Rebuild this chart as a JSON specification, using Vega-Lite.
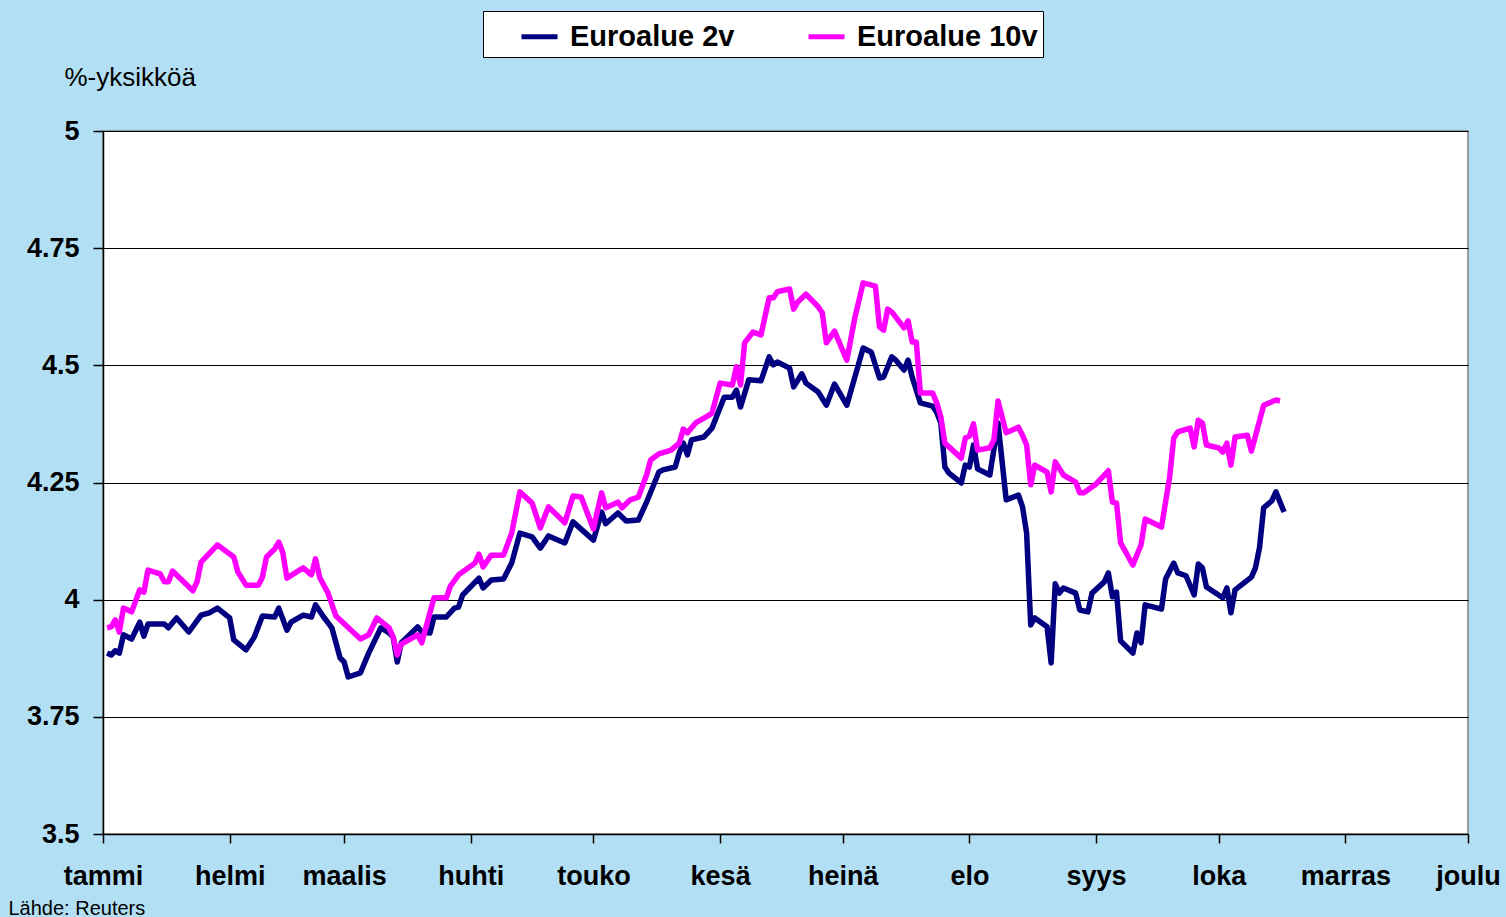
{
  "$schema": "https://vega.github.io/schema/vega-lite/v6.json",
  "width": 1365,
  "height": 703,
  "autosize": {"type": "none"},
  "padding": {"left": 103, "top": 131, "right": 38, "bottom": 83},
  "background": "#b2dff4",
  "config": {
    "font": "Liberation Sans",
    "view": {"fill": "white", "stroke": "#808080", "strokeWidth": 1.5}
  },
  "data": {"values": [
    {"date":"2007-01-02","series":"Euroalue 2v","value":3.886},{"date":"2007-01-03","series":"Euroalue 2v","value":3.882},{"date":"2007-01-04","series":"Euroalue 2v","value":3.891},{"date":"2007-01-05","series":"Euroalue 2v","value":3.886},{"date":"2007-01-06","series":"Euroalue 2v","value":3.925},{"date":"2007-01-08","series":"Euroalue 2v","value":3.916},{"date":"2007-01-10","series":"Euroalue 2v","value":3.952},{"date":"2007-01-11","series":"Euroalue 2v","value":3.922},{"date":"2007-01-12","series":"Euroalue 2v","value":3.948},{"date":"2007-01-16","series":"Euroalue 2v","value":3.948},{"date":"2007-01-17","series":"Euroalue 2v","value":3.940},{"date":"2007-01-19","series":"Euroalue 2v","value":3.961},{"date":"2007-01-22","series":"Euroalue 2v","value":3.931},{"date":"2007-01-25","series":"Euroalue 2v","value":3.967},{"date":"2007-01-27","series":"Euroalue 2v","value":3.972},{"date":"2007-01-29","series":"Euroalue 2v","value":3.982},
    {"date":"2007-02-01","series":"Euroalue 2v","value":3.961},{"date":"2007-02-02","series":"Euroalue 2v","value":3.914},{"date":"2007-02-05","series":"Euroalue 2v","value":3.893},{"date":"2007-02-07","series":"Euroalue 2v","value":3.920},{"date":"2007-02-09","series":"Euroalue 2v","value":3.965},{"date":"2007-02-12","series":"Euroalue 2v","value":3.963},{"date":"2007-02-13","series":"Euroalue 2v","value":3.982},{"date":"2007-02-15","series":"Euroalue 2v","value":3.935},{"date":"2007-02-16","series":"Euroalue 2v","value":3.952},{"date":"2007-02-19","series":"Euroalue 2v","value":3.967},{"date":"2007-02-21","series":"Euroalue 2v","value":3.963},{"date":"2007-02-22","series":"Euroalue 2v","value":3.989},{"date":"2007-02-24","series":"Euroalue 2v","value":3.963},{"date":"2007-02-26","series":"Euroalue 2v","value":3.940},{"date":"2007-02-28","series":"Euroalue 2v","value":3.876},
    {"date":"2007-03-01","series":"Euroalue 2v","value":3.867},{"date":"2007-03-02","series":"Euroalue 2v","value":3.835},{"date":"2007-03-05","series":"Euroalue 2v","value":3.844},{"date":"2007-03-07","series":"Euroalue 2v","value":3.886},{"date":"2007-03-10","series":"Euroalue 2v","value":3.940},{"date":"2007-03-12","series":"Euroalue 2v","value":3.929},{"date":"2007-03-13","series":"Euroalue 2v","value":3.920},{"date":"2007-03-14","series":"Euroalue 2v","value":3.867},{"date":"2007-03-15","series":"Euroalue 2v","value":3.908},{"date":"2007-03-19","series":"Euroalue 2v","value":3.942},{"date":"2007-03-20","series":"Euroalue 2v","value":3.931},{"date":"2007-03-22","series":"Euroalue 2v","value":3.929},{"date":"2007-03-23","series":"Euroalue 2v","value":3.963},{"date":"2007-03-26","series":"Euroalue 2v","value":3.963},{"date":"2007-03-28","series":"Euroalue 2v","value":3.982},{"date":"2007-03-29","series":"Euroalue 2v","value":3.984},{"date":"2007-03-30","series":"Euroalue 2v","value":4.010},
    {"date":"2007-04-03","series":"Euroalue 2v","value":4.046},{"date":"2007-04-04","series":"Euroalue 2v","value":4.025},{"date":"2007-04-06","series":"Euroalue 2v","value":4.042},{"date":"2007-04-09","series":"Euroalue 2v","value":4.044},{"date":"2007-04-11","series":"Euroalue 2v","value":4.078},{"date":"2007-04-13","series":"Euroalue 2v","value":4.142},{"date":"2007-04-16","series":"Euroalue 2v","value":4.134},{"date":"2007-04-18","series":"Euroalue 2v","value":4.110},{"date":"2007-04-20","series":"Euroalue 2v","value":4.136},{"date":"2007-04-24","series":"Euroalue 2v","value":4.121},{"date":"2007-04-26","series":"Euroalue 2v","value":4.166},
    {"date":"2007-05-01","series":"Euroalue 2v","value":4.127},{"date":"2007-05-03","series":"Euroalue 2v","value":4.187},{"date":"2007-05-04","series":"Euroalue 2v","value":4.162},{"date":"2007-05-07","series":"Euroalue 2v","value":4.185},{"date":"2007-05-09","series":"Euroalue 2v","value":4.168},{"date":"2007-05-12","series":"Euroalue 2v","value":4.170},{"date":"2007-05-14","series":"Euroalue 2v","value":4.208},{"date":"2007-05-17","series":"Euroalue 2v","value":4.272},{"date":"2007-05-18","series":"Euroalue 2v","value":4.277},{"date":"2007-05-21","series":"Euroalue 2v","value":4.283},{"date":"2007-05-22","series":"Euroalue 2v","value":4.313},{"date":"2007-05-23","series":"Euroalue 2v","value":4.334},{"date":"2007-05-24","series":"Euroalue 2v","value":4.309},{"date":"2007-05-25","series":"Euroalue 2v","value":4.341},{"date":"2007-05-28","series":"Euroalue 2v","value":4.347},{"date":"2007-05-30","series":"Euroalue 2v","value":4.366},
    {"date":"2007-06-02","series":"Euroalue 2v","value":4.432},{"date":"2007-06-04","series":"Euroalue 2v","value":4.432},{"date":"2007-06-05","series":"Euroalue 2v","value":4.447},{"date":"2007-06-06","series":"Euroalue 2v","value":4.411},{"date":"2007-06-08","series":"Euroalue 2v","value":4.469},{"date":"2007-06-11","series":"Euroalue 2v","value":4.467},{"date":"2007-06-13","series":"Euroalue 2v","value":4.518},{"date":"2007-06-14","series":"Euroalue 2v","value":4.501},{"date":"2007-06-15","series":"Euroalue 2v","value":4.507},{"date":"2007-06-18","series":"Euroalue 2v","value":4.494},{"date":"2007-06-19","series":"Euroalue 2v","value":4.454},{"date":"2007-06-21","series":"Euroalue 2v","value":4.482},{"date":"2007-06-22","series":"Euroalue 2v","value":4.462},{"date":"2007-06-25","series":"Euroalue 2v","value":4.443},{"date":"2007-06-27","series":"Euroalue 2v","value":4.415},{"date":"2007-06-29","series":"Euroalue 2v","value":4.460},
    {"date":"2007-07-02","series":"Euroalue 2v","value":4.415},{"date":"2007-07-06","series":"Euroalue 2v","value":4.537},{"date":"2007-07-08","series":"Euroalue 2v","value":4.528},{"date":"2007-07-10","series":"Euroalue 2v","value":4.473},{"date":"2007-07-11","series":"Euroalue 2v","value":4.475},{"date":"2007-07-13","series":"Euroalue 2v","value":4.518},{"date":"2007-07-14","series":"Euroalue 2v","value":4.511},{"date":"2007-07-16","series":"Euroalue 2v","value":4.490},{"date":"2007-07-17","series":"Euroalue 2v","value":4.511},{"date":"2007-07-18","series":"Euroalue 2v","value":4.475},{"date":"2007-07-20","series":"Euroalue 2v","value":4.420},{"date":"2007-07-23","series":"Euroalue 2v","value":4.413},{"date":"2007-07-24","series":"Euroalue 2v","value":4.400},{"date":"2007-07-25","series":"Euroalue 2v","value":4.377},{"date":"2007-07-26","series":"Euroalue 2v","value":4.283},{"date":"2007-07-27","series":"Euroalue 2v","value":4.270},{"date":"2007-07-30","series":"Euroalue 2v","value":4.249},{"date":"2007-07-31","series":"Euroalue 2v","value":4.287},
    {"date":"2007-08-01","series":"Euroalue 2v","value":4.283},{"date":"2007-08-02","series":"Euroalue 2v","value":4.330},{"date":"2007-08-03","series":"Euroalue 2v","value":4.279},{"date":"2007-08-06","series":"Euroalue 2v","value":4.266},{"date":"2007-08-08","series":"Euroalue 2v","value":4.377},{"date":"2007-08-10","series":"Euroalue 2v","value":4.213},{"date":"2007-08-13","series":"Euroalue 2v","value":4.223},{"date":"2007-08-14","series":"Euroalue 2v","value":4.198},{"date":"2007-08-15","series":"Euroalue 2v","value":4.142},{"date":"2007-08-16","series":"Euroalue 2v","value":3.946},{"date":"2007-08-17","series":"Euroalue 2v","value":3.961},{"date":"2007-08-20","series":"Euroalue 2v","value":3.942},{"date":"2007-08-21","series":"Euroalue 2v","value":3.865},{"date":"2007-08-22","series":"Euroalue 2v","value":4.034},{"date":"2007-08-23","series":"Euroalue 2v","value":4.014},{"date":"2007-08-24","series":"Euroalue 2v","value":4.025},{"date":"2007-08-27","series":"Euroalue 2v","value":4.014},{"date":"2007-08-28","series":"Euroalue 2v","value":3.978},{"date":"2007-08-30","series":"Euroalue 2v","value":3.974},{"date":"2007-08-31","series":"Euroalue 2v","value":4.014},
    {"date":"2007-09-03","series":"Euroalue 2v","value":4.038},{"date":"2007-09-04","series":"Euroalue 2v","value":4.057},{"date":"2007-09-05","series":"Euroalue 2v","value":4.006},{"date":"2007-09-06","series":"Euroalue 2v","value":4.016},{"date":"2007-09-07","series":"Euroalue 2v","value":3.912},{"date":"2007-09-10","series":"Euroalue 2v","value":3.886},{"date":"2007-09-11","series":"Euroalue 2v","value":3.929},{"date":"2007-09-12","series":"Euroalue 2v","value":3.908},{"date":"2007-09-13","series":"Euroalue 2v","value":3.989},{"date":"2007-09-17","series":"Euroalue 2v","value":3.980},{"date":"2007-09-18","series":"Euroalue 2v","value":4.044},{"date":"2007-09-20","series":"Euroalue 2v","value":4.078},{"date":"2007-09-21","series":"Euroalue 2v","value":4.057},{"date":"2007-09-23","series":"Euroalue 2v","value":4.051},{"date":"2007-09-25","series":"Euroalue 2v","value":4.010},{"date":"2007-09-26","series":"Euroalue 2v","value":4.076},{"date":"2007-09-27","series":"Euroalue 2v","value":4.068},{"date":"2007-09-28","series":"Euroalue 2v","value":4.027},
    {"date":"2007-10-02","series":"Euroalue 2v","value":4.004},{"date":"2007-10-03","series":"Euroalue 2v","value":4.025},{"date":"2007-10-04","series":"Euroalue 2v","value":3.972},{"date":"2007-10-05","series":"Euroalue 2v","value":4.021},{"date":"2007-10-09","series":"Euroalue 2v","value":4.048},{"date":"2007-10-10","series":"Euroalue 2v","value":4.068},{"date":"2007-10-11","series":"Euroalue 2v","value":4.112},{"date":"2007-10-12","series":"Euroalue 2v","value":4.196},{"date":"2007-10-14","series":"Euroalue 2v","value":4.211},{"date":"2007-10-15","series":"Euroalue 2v","value":4.230},{"date":"2007-10-17","series":"Euroalue 2v","value":4.187},
    {"date":"2007-01-02","series":"Euroalue 10v","value":3.940},{"date":"2007-01-03","series":"Euroalue 10v","value":3.942},{"date":"2007-01-04","series":"Euroalue 10v","value":3.957},{"date":"2007-01-05","series":"Euroalue 10v","value":3.931},{"date":"2007-01-06","series":"Euroalue 10v","value":3.982},{"date":"2007-01-08","series":"Euroalue 10v","value":3.974},{"date":"2007-01-10","series":"Euroalue 10v","value":4.021},{"date":"2007-01-11","series":"Euroalue 10v","value":4.016},{"date":"2007-01-12","series":"Euroalue 10v","value":4.063},{"date":"2007-01-15","series":"Euroalue 10v","value":4.055},{"date":"2007-01-16","series":"Euroalue 10v","value":4.038},{"date":"2007-01-17","series":"Euroalue 10v","value":4.038},{"date":"2007-01-18","series":"Euroalue 10v","value":4.061},{"date":"2007-01-23","series":"Euroalue 10v","value":4.019},{"date":"2007-01-24","series":"Euroalue 10v","value":4.038},{"date":"2007-01-25","series":"Euroalue 10v","value":4.080},{"date":"2007-01-29","series":"Euroalue 10v","value":4.117},
    {"date":"2007-02-02","series":"Euroalue 10v","value":4.091},{"date":"2007-02-03","series":"Euroalue 10v","value":4.059},{"date":"2007-02-05","series":"Euroalue 10v","value":4.031},{"date":"2007-02-08","series":"Euroalue 10v","value":4.031},{"date":"2007-02-09","series":"Euroalue 10v","value":4.048},{"date":"2007-02-10","series":"Euroalue 10v","value":4.091},{"date":"2007-02-12","series":"Euroalue 10v","value":4.108},{"date":"2007-02-13","series":"Euroalue 10v","value":4.123},{"date":"2007-02-14","series":"Euroalue 10v","value":4.100},{"date":"2007-02-15","series":"Euroalue 10v","value":4.046},{"date":"2007-02-19","series":"Euroalue 10v","value":4.068},{"date":"2007-02-21","series":"Euroalue 10v","value":4.053},{"date":"2007-02-22","series":"Euroalue 10v","value":4.087},{"date":"2007-02-23","series":"Euroalue 10v","value":4.048},{"date":"2007-02-25","series":"Euroalue 10v","value":4.015},{"date":"2007-02-27","series":"Euroalue 10v","value":3.965},
    {"date":"2007-03-05","series":"Euroalue 10v","value":3.916},{"date":"2007-03-07","series":"Euroalue 10v","value":3.925},{"date":"2007-03-09","series":"Euroalue 10v","value":3.961},{"date":"2007-03-12","series":"Euroalue 10v","value":3.940},{"date":"2007-03-13","series":"Euroalue 10v","value":3.920},{"date":"2007-03-14","series":"Euroalue 10v","value":3.882},{"date":"2007-03-15","series":"Euroalue 10v","value":3.905},{"date":"2007-03-19","series":"Euroalue 10v","value":3.925},{"date":"2007-03-20","series":"Euroalue 10v","value":3.908},{"date":"2007-03-21","series":"Euroalue 10v","value":3.940},{"date":"2007-03-23","series":"Euroalue 10v","value":4.004},{"date":"2007-03-26","series":"Euroalue 10v","value":4.004},{"date":"2007-03-27","series":"Euroalue 10v","value":4.029},{"date":"2007-03-29","series":"Euroalue 10v","value":4.053},
    {"date":"2007-04-02","series":"Euroalue 10v","value":4.078},{"date":"2007-04-03","series":"Euroalue 10v","value":4.097},{"date":"2007-04-04","series":"Euroalue 10v","value":4.070},{"date":"2007-04-06","series":"Euroalue 10v","value":4.095},{"date":"2007-04-09","series":"Euroalue 10v","value":4.095},{"date":"2007-04-11","series":"Euroalue 10v","value":4.142},{"date":"2007-04-13","series":"Euroalue 10v","value":4.230},{"date":"2007-04-16","series":"Euroalue 10v","value":4.206},{"date":"2007-04-18","series":"Euroalue 10v","value":4.153},{"date":"2007-04-20","series":"Euroalue 10v","value":4.198},{"date":"2007-04-24","series":"Euroalue 10v","value":4.164},{"date":"2007-04-26","series":"Euroalue 10v","value":4.221},{"date":"2007-04-28","series":"Euroalue 10v","value":4.219},
    {"date":"2007-05-01","series":"Euroalue 10v","value":4.151},{"date":"2007-05-03","series":"Euroalue 10v","value":4.228},{"date":"2007-05-04","series":"Euroalue 10v","value":4.196},{"date":"2007-05-07","series":"Euroalue 10v","value":4.208},{"date":"2007-05-08","series":"Euroalue 10v","value":4.196},{"date":"2007-05-10","series":"Euroalue 10v","value":4.213},{"date":"2007-05-12","series":"Euroalue 10v","value":4.219},{"date":"2007-05-14","series":"Euroalue 10v","value":4.266},{"date":"2007-05-15","series":"Euroalue 10v","value":4.298},{"date":"2007-05-17","series":"Euroalue 10v","value":4.311},{"date":"2007-05-20","series":"Euroalue 10v","value":4.319},{"date":"2007-05-22","series":"Euroalue 10v","value":4.334},{"date":"2007-05-23","series":"Euroalue 10v","value":4.364},{"date":"2007-05-24","series":"Euroalue 10v","value":4.356},{"date":"2007-05-26","series":"Euroalue 10v","value":4.377},{"date":"2007-05-29","series":"Euroalue 10v","value":4.392},{"date":"2007-05-30","series":"Euroalue 10v","value":4.398},
    {"date":"2007-06-01","series":"Euroalue 10v","value":4.462},{"date":"2007-06-04","series":"Euroalue 10v","value":4.458},{"date":"2007-06-05","series":"Euroalue 10v","value":4.497},{"date":"2007-06-06","series":"Euroalue 10v","value":4.458},{"date":"2007-06-07","series":"Euroalue 10v","value":4.548},{"date":"2007-06-09","series":"Euroalue 10v","value":4.571},{"date":"2007-06-11","series":"Euroalue 10v","value":4.565},{"date":"2007-06-13","series":"Euroalue 10v","value":4.644},{"date":"2007-06-14","series":"Euroalue 10v","value":4.644},{"date":"2007-06-15","series":"Euroalue 10v","value":4.657},{"date":"2007-06-18","series":"Euroalue 10v","value":4.663},{"date":"2007-06-19","series":"Euroalue 10v","value":4.620},{"date":"2007-06-20","series":"Euroalue 10v","value":4.635},{"date":"2007-06-22","series":"Euroalue 10v","value":4.652},{"date":"2007-06-25","series":"Euroalue 10v","value":4.625},{"date":"2007-06-26","series":"Euroalue 10v","value":4.612},{"date":"2007-06-27","series":"Euroalue 10v","value":4.548},{"date":"2007-06-29","series":"Euroalue 10v","value":4.573},
    {"date":"2007-07-02","series":"Euroalue 10v","value":4.511},{"date":"2007-07-04","series":"Euroalue 10v","value":4.603},{"date":"2007-07-06","series":"Euroalue 10v","value":4.676},{"date":"2007-07-09","series":"Euroalue 10v","value":4.669},{"date":"2007-07-10","series":"Euroalue 10v","value":4.582},{"date":"2007-07-11","series":"Euroalue 10v","value":4.575},{"date":"2007-07-12","series":"Euroalue 10v","value":4.620},{"date":"2007-07-13","series":"Euroalue 10v","value":4.614},{"date":"2007-07-16","series":"Euroalue 10v","value":4.580},{"date":"2007-07-17","series":"Euroalue 10v","value":4.595},{"date":"2007-07-18","series":"Euroalue 10v","value":4.550},{"date":"2007-07-19","series":"Euroalue 10v","value":4.550},{"date":"2007-07-20","series":"Euroalue 10v","value":4.441},{"date":"2007-07-23","series":"Euroalue 10v","value":4.441},{"date":"2007-07-24","series":"Euroalue 10v","value":4.420},{"date":"2007-07-25","series":"Euroalue 10v","value":4.390},{"date":"2007-07-26","series":"Euroalue 10v","value":4.334},{"date":"2007-07-30","series":"Euroalue 10v","value":4.302},{"date":"2007-07-31","series":"Euroalue 10v","value":4.345},
    {"date":"2007-08-01","series":"Euroalue 10v","value":4.349},{"date":"2007-08-02","series":"Euroalue 10v","value":4.375},{"date":"2007-08-03","series":"Euroalue 10v","value":4.319},{"date":"2007-08-06","series":"Euroalue 10v","value":4.324},{"date":"2007-08-07","series":"Euroalue 10v","value":4.341},{"date":"2007-08-08","series":"Euroalue 10v","value":4.424},{"date":"2007-08-10","series":"Euroalue 10v","value":4.356},{"date":"2007-08-13","series":"Euroalue 10v","value":4.368},{"date":"2007-08-14","series":"Euroalue 10v","value":4.351},{"date":"2007-08-15","series":"Euroalue 10v","value":4.330},{"date":"2007-08-16","series":"Euroalue 10v","value":4.245},{"date":"2007-08-17","series":"Euroalue 10v","value":4.287},{"date":"2007-08-20","series":"Euroalue 10v","value":4.272},{"date":"2007-08-21","series":"Euroalue 10v","value":4.230},{"date":"2007-08-22","series":"Euroalue 10v","value":4.294},{"date":"2007-08-24","series":"Euroalue 10v","value":4.266},{"date":"2007-08-27","series":"Euroalue 10v","value":4.251},{"date":"2007-08-28","series":"Euroalue 10v","value":4.228},{"date":"2007-08-29","series":"Euroalue 10v","value":4.228},
    {"date":"2007-09-01","series":"Euroalue 10v","value":4.247},{"date":"2007-09-04","series":"Euroalue 10v","value":4.275},{"date":"2007-09-05","series":"Euroalue 10v","value":4.208},{"date":"2007-09-06","series":"Euroalue 10v","value":4.206},{"date":"2007-09-07","series":"Euroalue 10v","value":4.121},{"date":"2007-09-10","series":"Euroalue 10v","value":4.074},{"date":"2007-09-12","series":"Euroalue 10v","value":4.117},{"date":"2007-09-13","series":"Euroalue 10v","value":4.172},{"date":"2007-09-17","series":"Euroalue 10v","value":4.155},{"date":"2007-09-19","series":"Euroalue 10v","value":4.262},{"date":"2007-09-20","series":"Euroalue 10v","value":4.345},{"date":"2007-09-21","series":"Euroalue 10v","value":4.358},{"date":"2007-09-24","series":"Euroalue 10v","value":4.366},{"date":"2007-09-25","series":"Euroalue 10v","value":4.326},{"date":"2007-09-26","series":"Euroalue 10v","value":4.383},{"date":"2007-09-27","series":"Euroalue 10v","value":4.377},{"date":"2007-09-28","series":"Euroalue 10v","value":4.330},
    {"date":"2007-10-01","series":"Euroalue 10v","value":4.324},{"date":"2007-10-02","series":"Euroalue 10v","value":4.315},{"date":"2007-10-03","series":"Euroalue 10v","value":4.334},{"date":"2007-10-04","series":"Euroalue 10v","value":4.287},{"date":"2007-10-05","series":"Euroalue 10v","value":4.347},{"date":"2007-10-08","series":"Euroalue 10v","value":4.351},{"date":"2007-10-09","series":"Euroalue 10v","value":4.317},{"date":"2007-10-12","series":"Euroalue 10v","value":4.415},{"date":"2007-10-15","series":"Euroalue 10v","value":4.426},{"date":"2007-10-16","series":"Euroalue 10v","value":4.424}
  ]},
  "mark": {"type": "line", "strokeWidth": 5.5, "strokeJoin": "round"},
  "encoding": {
    "x": {
      "field": "date", "type": "temporal",
      "scale": {"type": "utc", "domain": [{"year": 2007, "month": 1, "date": 1, "utc": true}, {"year": 2007, "month": 12, "date": 1, "utc": true}]},
      "axis": {
        "values": [
          {"year": 2007, "month": 1, "date": 1, "utc": true},
          {"year": 2007, "month": 2, "date": 1, "utc": true},
          {"year": 2007, "month": 3, "date": 1, "utc": true},
          {"year": 2007, "month": 4, "date": 1, "utc": true},
          {"year": 2007, "month": 5, "date": 1, "utc": true},
          {"year": 2007, "month": 6, "date": 1, "utc": true},
          {"year": 2007, "month": 7, "date": 1, "utc": true},
          {"year": 2007, "month": 8, "date": 1, "utc": true},
          {"year": 2007, "month": 9, "date": 1, "utc": true},
          {"year": 2007, "month": 10, "date": 1, "utc": true},
          {"year": 2007, "month": 11, "date": 1, "utc": true},
          {"year": 2007, "month": 12, "date": 1, "utc": true}
        ],
        "labelExpr": "['tammi','helmi','maalis','huhti','touko','kesä','heinä','elo','syys','loka','marras','joulu'][utcmonth(datum.value)]",
        "grid": false,
        "domainColor": "#000000", "domainWidth": 1.5,
        "tickColor": "#000000", "tickSize": 9, "tickWidth": 1.5,
        "labelFontSize": 27, "labelFontWeight": "bold", "labelColor": "#000000",
        "labelPadding": 20, "labelAlign": "center", "labelBaseline": "top",
        "labelOverlap": false, "labelFlush": false, "labelBound": false,
        "title": "Lähde: Reuters",
        "titleFontSize": 20, "titleFontWeight": "normal", "titleColor": "#000000",
        "titleX": -95, "titleY": 80, "titleAlign": "left", "titleBaseline": "alphabetic", "titleAnchor": "start"
      }
    },
    "y": {
      "field": "value", "type": "quantitative",
      "scale": {"domain": [3.5, 5], "nice": false, "zero": false},
      "axis": {
        "values": [3.5, 3.75, 4, 4.25, 4.5, 4.75, 5],
        "labelExpr": "datum.value + ''",
        "grid": true, "gridColor": "#000000", "gridWidth": 1.2, "gridOpacity": 1,
        "domainColor": "#000000", "domainWidth": 1.5,
        "tickColor": "#000000", "tickSize": 10, "tickWidth": 1.5,
        "labelFontSize": 27, "labelFontWeight": "bold", "labelColor": "#000000",
        "labelPadding": 14,
        "title": "%-yksikköä",
        "titleAngle": 0, "titleFontSize": 26, "titleFontWeight": "normal", "titleColor": "#000000",
        "titleX": -39, "titleY": -46, "titleAlign": "left", "titleBaseline": "alphabetic", "titleAnchor": "start"
      }
    },
    "color": {
      "field": "series", "type": "nominal",
      "scale": {"domain": ["Euroalue 2v", "Euroalue 10v"], "range": ["#000080", "#ff00ff"]},
      "legend": {
        "title": null,
        "orient": "none", "direction": "horizontal",
        "legendX": 380, "legendY": -120,
        "fillColor": "#ffffff", "strokeColor": "#000000",
        "padding": 5, "symbolOffset": 31,
        "symbolType": "stroke", "symbolSize": 1296, "symbolStrokeWidth": 5,
        "labelFontSize": 29, "labelFontWeight": "bold", "labelColor": "#000000",
        "labelOffset": 10, "labelLimit": 400, "columnPadding": 40
      }
    }
  }
}
